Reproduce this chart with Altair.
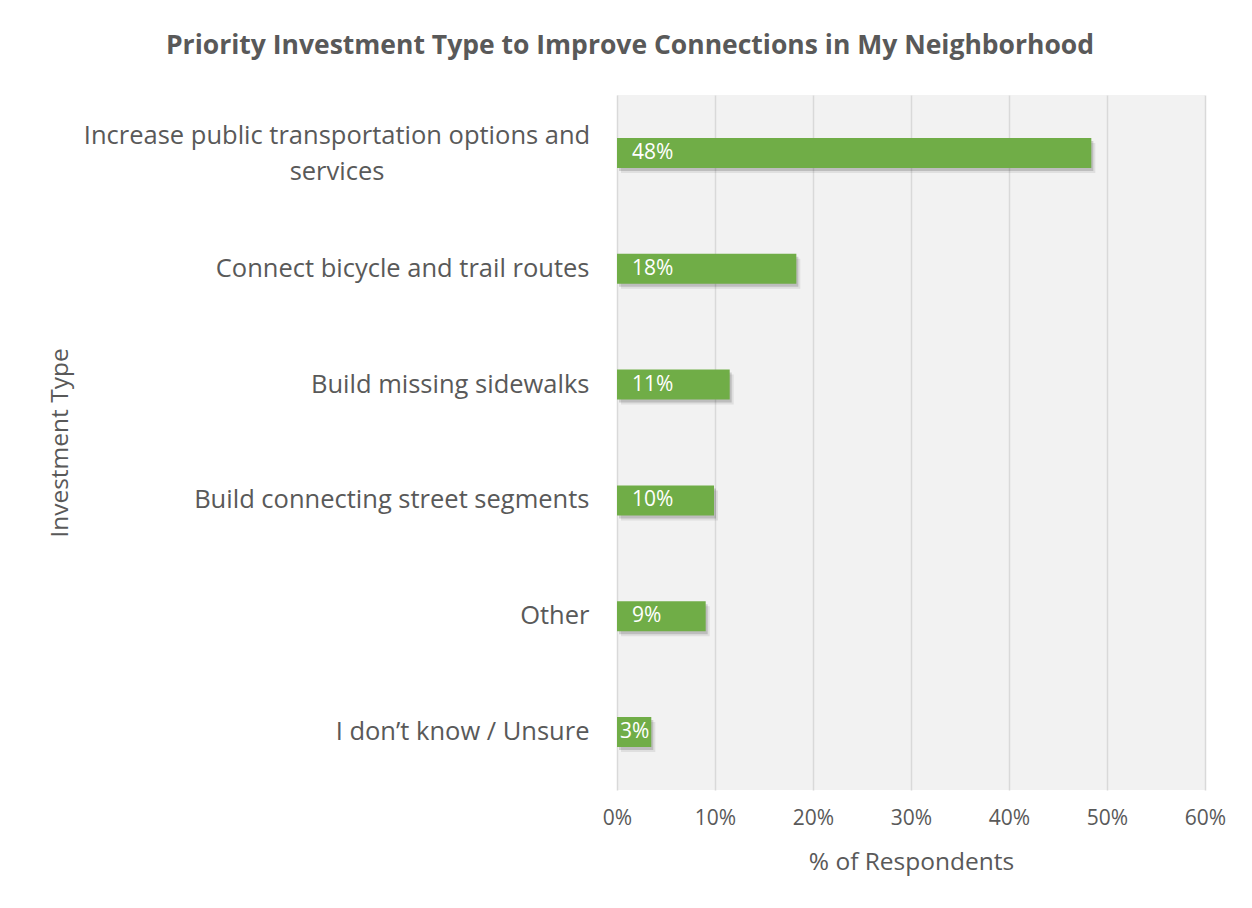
import altair as alt
import pandas as pd

categories = [
    "Increase public transportation options and services",
    "Connect bicycle and trail routes",
    "Build missing sidewalks",
    "Build connecting street segments",
    "Other",
    "I don’t know / Unsure",
]
values = [0.484, 0.183, 0.115, 0.099, 0.0905, 0.035]
labels = ["48%", "18%", "11%", "10%", "9%", "3%"]
x_ticks = [0, 0.1, 0.2, 0.3, 0.4, 0.5, 0.6]
wrapped_first = ["Increase public transportation options and", "services"]

df = pd.DataFrame({"cat": categories, "val": values, "lab": labels})

FONT = "Open Sans"
GREY = "#595959"
GREEN = "#70AD47"

W, H = 588, 695

y_enc = alt.Y(
    "cat:N",
    sort=categories,
    scale=alt.Scale(paddingInner=0, paddingOuter=0),
    title="Investment Type",
    axis=alt.Axis(
        labelExpr="datum.value == '" + categories[0] + "' ? '' : datum.value",
        labelFont=FONT, labelFontSize=25.5, labelColor=GREY, labelPadding=28,
        labelLimit=0, domain=False, ticks=False, grid=False,
        titleFont=FONT, titleFontSize=24.5, titleFontWeight="normal", titleColor=GREY,
        titleAngle=270, titleX=-557, titleY=H / 2, titleAlign="center", titleBaseline="middle",
    ),
)
x_enc = alt.X(
    "val:Q",
    scale=alt.Scale(domain=[0, 0.6], nice=False),
    title="% of Respondents",
    axis=alt.Axis(
        values=x_ticks, format=".0%", labelFont=FONT, labelFontSize=21, labelColor=GREY,
        labelPadding=17, labelFlush=False, labelOverlap=False,
        domain=False, ticks=False, grid=True, gridColor="#d9d9d9", gridWidth=1.5,
        titleFont=FONT, titleFontSize=24.5, titleFontWeight="normal", titleColor=GREY,
        titleX=W / 2, titleY=72, titleAlign="center", titleBaseline="middle",
    ),
)

base = alt.Chart(df)
shadow2 = base.mark_bar(size=30, color="black", opacity=0.08, xOffset=4, yOffset=5).encode(x=x_enc, y=y_enc)
shadow = base.mark_bar(size=30, color="black", opacity=0.15, xOffset=2, yOffset=3).encode(x=x_enc, y=y_enc)
bars = base.mark_bar(size=30, color=GREEN).encode(x=x_enc, y=y_enc)
text_wide = base.transform_filter(alt.datum.val >= 0.05).mark_text(
    align="left", baseline="middle", dx=15, color="white", font=FONT, fontSize=21
).encode(x=alt.datum(0), y=alt.Y("cat:N", sort=categories), text="lab:N")
text_narrow = base.transform_filter(alt.datum.val < 0.05).mark_text(
    align="left", baseline="middle", dx=3, color="white", font=FONT, fontSize=21
).encode(x=alt.datum(0), y=alt.Y("cat:N", sort=categories), text="lab:N")
first_label = base.transform_filter(alt.datum.cat == categories[0]).mark_text(
    align="center", baseline="middle", font=FONT, fontSize=25.5, color=GREY, lineHeight=36,
    text=wrapped_first, dx=-280, dy=-17,
).encode(x=alt.value(0), y=alt.Y("cat:N", sort=categories))

chart = alt.layer(shadow2, shadow, bars, text_wide, text_narrow, first_label).properties(
    width=W, height=H,
    title=alt.TitleParams(
        "Priority Investment Type to Improve Connections in My Neighborhood",
        font=FONT, fontSize=26.5, fontWeight="bold", color=GREY, anchor="middle", dx=-281, offset=36,
    ),
    autosize=alt.AutoSizeParams(type="none"),
    padding={"left": 609, "top": 87, "right": 39, "bottom": 110},
    background="white",
).configure_view(fill="#f2f2f2", stroke=None)

chart.save("out.html", embed_options={"renderer": "svg", "actions": False})
